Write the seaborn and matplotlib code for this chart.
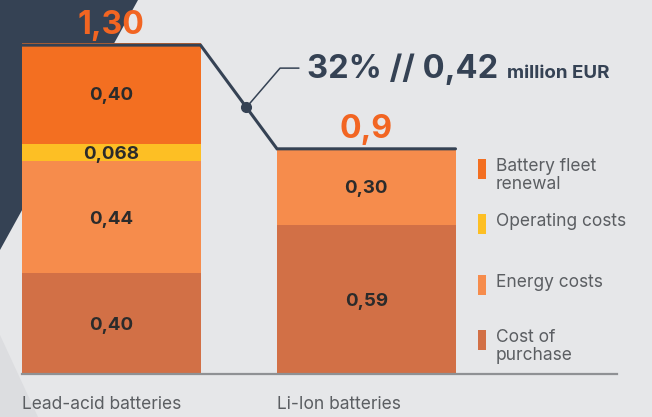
import pandas as pd
import seaborn as sns
import matplotlib.pyplot as plt
from matplotlib.patches import Polygon, Rectangle

# values (million EUR)
batteries = ["Lead-acid batteries", "Li-Ion batteries"]
purchase = [0.40, 0.59]
energy = [0.44, 0.30]
operating = [0.068, 0.0]
renewal = [0.40, 0.0]
segment_labels = [["0,40", "0,44", "0,068", "0,40"], ["0,59", "0,30", "", ""]]
total_labels = ["1,30", "0,9"]
bar_tops = [1.30, 0.89]
saving_text = "32% // 0,42"
saving_unit = "million EUR"
legend_labels = ["Battery fleet\nrenewal", "Operating costs", "Energy costs", "Cost of\npurchase"]

c_renewal = "#f36f21"
c_operating = "#fdbf24"
c_energy = "#f68c4c"
c_purchase = "#d27046"
navy = "#354254"
bg = "#e6e7e9"

df = pd.DataFrame({"battery": batteries, "purchase": purchase, "energy": energy,
                   "operating": operating, "renewal": renewal})
df["cum_purchase"] = df["purchase"]
df["cum_energy"] = df["cum_purchase"] + df["energy"]
df["cum_operating"] = df["cum_energy"] + df["operating"]
df["cum_renewal"] = df["cum_operating"] + df["renewal"]

sns.set_style("white")
plt.rcParams["font.family"] = ["Inter", "DejaVu Sans"]

W, H = 652, 417
fig = plt.figure(figsize=(W / 100, H / 100), dpi=100)
fig.patch.set_facecolor(bg)

# background shapes
fig.patches.append(Polygon([(0, 1), (138 / W, 1), (0, 1 - 250 / H)], closed=True,
                           transform=fig.transFigure, facecolor=navy, edgecolor="none", zorder=-5))
fig.patches.append(Polygon([(0, 1 - 335 / H), (38 / W, 0), (0, 0)], closed=True,
                           transform=fig.transFigure, facecolor="#dcdde0", edgecolor="none", zorder=-5))

ax = fig.add_axes([22 / W, 43 / H, 595 / W, 374 / H])
ax.patch.set_alpha(0)

# stacked bars drawn as overlapping cumulative bars, top segment first
for col, c in [("cum_renewal", c_renewal), ("cum_operating", c_operating),
               ("cum_energy", c_energy), ("cum_purchase", c_purchase)]:
    sns.barplot(data=df, x="battery", y=col, color=c, width=0.7, saturation=1,
                linewidth=0, ax=ax)

ax.set_xlim(-0.35, -0.35 + 595 / 255)
ax.set_ylim(0, 374 / 253)
ax.set_xticks([])
ax.set_yticks([])
ax.set_xlabel("")
ax.set_ylabel("")
for s in ["top", "left", "right"]:
    ax.spines[s].set_visible(False)
ax.spines["bottom"].set_color("#8f9194")
ax.spines["bottom"].set_linewidth(1.6)

# segment labels
for i in range(len(batteries)):
    segs = [purchase[i], energy[i], operating[i], renewal[i]]
    bottom = 0
    for v, lab in zip(segs, segment_labels[i]):
        if lab:
            ax.text(i, bottom + v / 2, lab, ha="center", va="center_baseline", fontsize=13.5,
                    fontweight="bold", color="#2b2b2b", zorder=5)
        bottom += v
    ax.annotate(total_labels[i], xy=(i, bar_tops[i]), xytext=(0, 8), textcoords="offset points",
                ha="center", va="baseline", fontsize=23, fontweight="bold", color="#f26522")
    ax.annotate(batteries[i], xy=(i - 0.35, 0), xycoords=("data", "axes fraction"),
                xytext=(0, -22), textcoords="offset points", ha="left", va="center",
                fontsize=12.5, color="#5b5e62", annotation_clip=False)

# connector line between bar tops
xs = [-0.35, 0.35, 0.65, 1.35]
ys = [bar_tops[0], bar_tops[0], bar_tops[1], bar_tops[1]]
ax.plot(xs, ys, color=navy, lw=2.2, solid_joinstyle="miter", zorder=6, clip_on=False)
t = 0.6
dx = 0.35 + t * 0.3
dy = bar_tops[0] + t * (bar_tops[1] - bar_tops[0])
ax.plot([dx], [dy], "o", color=navy, ms=7, zorder=7)
ax.plot([dx, 0.662, 0.736], [dy, 1.209, 1.209], color=navy, lw=1.1, zorder=6)

t1 = fig.text(307 / W, 1 - 78 / H, saving_text, fontsize=23.5, fontweight="bold", color=navy,
              va="baseline")
fig.canvas.draw()
x1 = t1.get_window_extent().x1
fig.text((x1 + 9) / W, 1 - 78 / H, saving_unit, fontsize=13.5, fontweight="bold", color=navy,
         va="baseline")

# legend
for lab, c, top in zip(legend_labels, [c_renewal, c_operating, c_energy, c_purchase],
                       [159, 214, 275, 330]):
    fig.patches.append(Rectangle((478 / W, 1 - (top + 20) / H), 8 / W, 20 / H,
                                 transform=fig.transFigure, facecolor=c, edgecolor="none"))
    fig.text(496 / W, 1 - (top - 1) / H, lab, fontsize=12.5, color="#5b5e62", va="top",
             linespacing=1.05)

fig.savefig("out.png", dpi=100, facecolor=bg)
